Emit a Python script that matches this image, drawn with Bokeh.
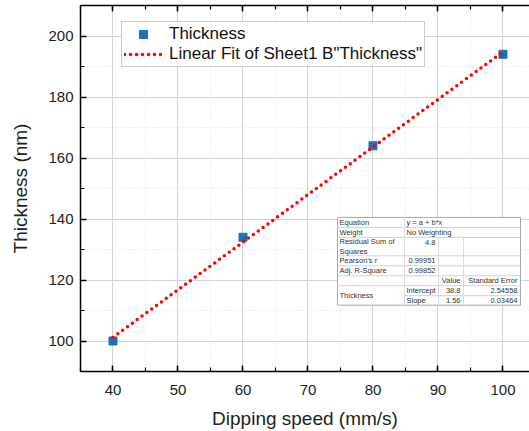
from bokeh.plotting import figure
from bokeh.models import (Range1d, LinearAxis, SingleIntervalTicker, Legend, LegendItem,
                          ColumnDataSource)
from bokeh.core.properties import value
from bokeh.embed import file_html
from bokeh.resources import INLINE

# ---- data ----
speed = [40, 60, 80, 100]
thickness = [100, 134, 164, 194]
intercept = 38.8
slope = 1.56
fit_x = [40, 100]
fit_y = [intercept + slope * v for v in fit_x]

table_rows = [
    ["Equation", "y = a + b*x", "", ""],
    ["Weight", "No Weighting", "", ""],
    ["Residual Sum of\nSquares", "4.8", "", ""],
    ["Pearson's r", "0.99951", "", ""],
    ["Adj. R-Square", "0.99852", "", ""],
    ["", "", "Value", "Standard Error"],
    ["Thickness", "Intercept", "38.8", "2.54558"],
    ["", "Slope", "1.56", "0.03464"],
]

FONT = "Liberation Sans"
W, H = 529, 431
FL, FT, FR, FB = 80, 5, 0, 59
XR = (35, 104.08)
YR = (90, 210)
FW = W - FL - FR
FH = H - FT - FB

def px2x(px):
    return XR[0] + (px - FL) / FW * (XR[1] - XR[0])

def py2y(py):
    return YR[1] - (py - FT) / FH * (YR[1] - YR[0])

p = figure(width=W, height=H, output_backend="svg", toolbar_location=None,
           x_range=Range1d(*XR), y_range=Range1d(*YR),
           min_border_left=FL, min_border_top=FT, min_border_right=FR, min_border_bottom=FB)
p.outline_line_color = None
p.background_fill_color = "white"
p.border_fill_color = "white"

xt = SingleIntervalTicker(interval=10, num_minor_ticks=2)
yt = SingleIntervalTicker(interval=20, num_minor_ticks=2)
p.xaxis.ticker = xt
p.yaxis.ticker = yt
p.xgrid.ticker = xt
p.ygrid.ticker = yt

for ax in [p.xaxis[0], p.yaxis[0]]:
    ax.axis_line_color = "black"
    ax.axis_line_width = 1.5
    ax.major_tick_in = 6
    ax.major_tick_out = 0
    ax.minor_tick_in = 4
    ax.minor_tick_out = 0
    ax.major_tick_line_width = 1.5
    ax.minor_tick_line_width = 1.2
    ax.major_tick_line_color = "black"
    ax.minor_tick_line_color = "black"
    ax.major_label_text_font = FONT
    ax.major_label_text_font_size = "15px"
    ax.major_label_text_color = "#222222"
    ax.axis_label_text_font = FONT
    ax.axis_label_text_font_size = "19px"
    ax.axis_label_text_font_style = "normal"
    ax.axis_label_text_color = "#222222"

p.xaxis.axis_label = "Dipping speed (mm/s)"
p.yaxis.axis_label = "Thickness (nm)"
p.xaxis.major_label_standoff = 13
p.xaxis.axis_label_standoff = 10
p.yaxis.major_label_standoff = 7
p.yaxis.axis_label_standoff = 14

top = LinearAxis(ticker=xt, major_label_text_font_size="0px", major_label_text_color=None,
                 axis_line_color="black", axis_line_width=1.5,
                 major_tick_in=6, major_tick_out=0, minor_tick_in=4, minor_tick_out=0,
                 major_tick_line_width=1.5, minor_tick_line_width=1.2)
p.add_layout(top, "above")

for g in [p.xgrid[0], p.ygrid[0]]:
    g.grid_line_color = "#d4d4d4"
    g.grid_line_width = 1
    g.minor_grid_line_color = "#e2e2e2"
    g.minor_grid_line_dash = "1 2"
    g.minor_grid_line_width = 1

pts = p.scatter(speed, thickness, marker="square", size=8, fill_color="#1d6fb6",
                line_color="#1d6fb6")
fit = p.line(fit_x, fit_y, line_color="#ff0000", line_width=3.5, line_dash="0 6",
             line_cap="round")

legend = Legend(items=[LegendItem(label="Thickness", renderers=[pts]),
                       LegendItem(label='Linear Fit of Sheet1 B"Thickness"', renderers=[fit])],
                location=(41, 304), orientation="vertical")
legend.label_text_font = FONT
legend.label_text_font_size = "17px"
legend.label_text_color = "#111111"
legend.border_line_color = "#9a9a9a"
legend.border_line_width = 1
legend.background_fill_alpha = 1
legend.padding = 2
legend.spacing = 0
legend.glyph_width = 38
legend.glyph_height = 20
legend.label_height = 20
legend.label_standoff = 7
legend.margin = 0
p.add_layout(legend, "center")

# ---- fit table (pixel layout converted to data coords) ----
col_px = [337, 404, 438, 463, 520]
row_px = [217.5, 227.5, 237.5, 256, 266, 276, 286, 296, 305.5]
# background
p.quad(left=[px2x(col_px[0])], right=[px2x(col_px[-1])],
       top=[py2y(row_px[0])], bottom=[py2y(row_px[-1])],
       fill_color="white", line_color="#a8a8a8", line_width=1)
# horizontal lines
hx0, hx1, hy = [], [], []
for i in range(1, len(row_px) - 1):
    x0 = col_px[1] if i == 7 else col_px[0]
    hx0.append(px2x(x0)); hx1.append(px2x(col_px[-1])); hy.append(py2y(row_px[i]))
p.segment(x0=hx0, x1=hx1, y0=hy, y1=hy, line_color="#d0d0d0", line_width=1)
# vertical lines
vx, vy0, vy1 = [], [], []
vx.append(px2x(col_px[1])); vy0.append(py2y(row_px[0])); vy1.append(py2y(row_px[-1]))
for c in (2, 3):
    vx.append(px2x(col_px[c])); vy0.append(py2y(row_px[2])); vy1.append(py2y(row_px[-1]))
p.segment(x0=vx, x1=vx, y0=vy0, y1=vy1, line_color="#dcdcdc", line_width=1)

tx, ty, tt, ta = [], [], [], []
for r, row in enumerate(table_rows):
    yc = (row_px[r] + row_px[r + 1]) / 2
    for c, txt in enumerate(row):
        if not txt:
            continue
        if r == 6 and c == 0:
            yc2 = (row_px[6] + row_px[8]) / 2
        elif r == 2 and c == 1:
            yc2 = row_px[r] + 5
        else:
            yc2 = yc
        numeric = txt.replace(".", "").isdigit()
        if c >= 2 or (c == 1 and numeric and r >= 2):
            tx.append(px2x(col_px[c + 1] - 3)); ta.append("right")
        else:
            tx.append(px2x(col_px[c] + 2)); ta.append("left")
        ty.append(py2y(yc2)); tt.append(txt)
src = ColumnDataSource(dict(x=tx, y=ty, t=tt, a=ta))
p.text(x="x", y="y", text="t", text_align="a", text_baseline="middle", source=src,
       text_font=value(FONT), text_font_size="7.5px", text_color="#333333",
       text_line_height=1.05)

open("out.html", "w").write(file_html(p, INLINE))
